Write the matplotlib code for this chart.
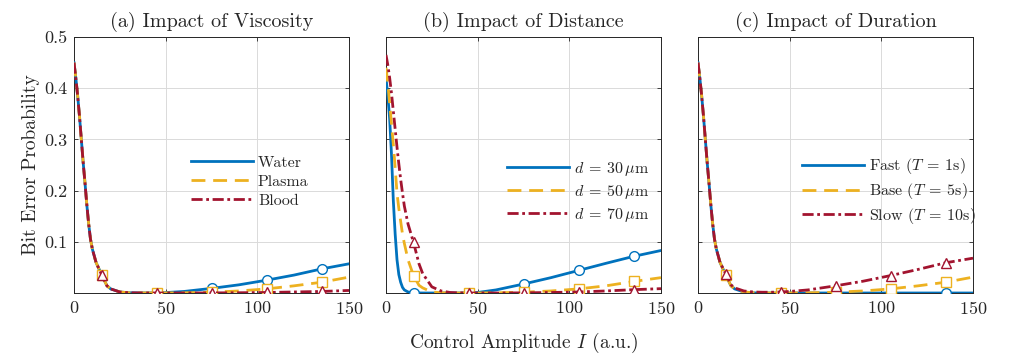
import numpy as np
import matplotlib
matplotlib.use('Agg')
import matplotlib.pyplot as plt
from matplotlib import rc

rc('font', family='serif', serif=['cmr10'])
rc('mathtext', fontset='cm')
rc('axes', unicode_minus=False)
plt.rcParams['axes.formatter.use_mathtext'] = True

# =============================================
# Data
# =============================================

amp = [0, 1, 2, 3, 4, 5, 6, 7, 8, 9, 10, 12, 15, 18, 20, 25, 30, 35, 40, 45,
       50, 60, 75, 90, 105, 120, 135, 150]
marker_amp = [15, 45, 75, 105, 135]

# (a) viscosity
water = [0.450, 0.420, 0.385, 0.345, 0.300, 0.255, 0.215, 0.172, 0.135, 0.105, 0.086, 0.060,
         0.036, 0.014, 0.008, 0.002, 0.0005, 0.0002, 0.0001, 0.0003,
         0.0008, 0.003, 0.009, 0.016, 0.025, 0.035, 0.047, 0.057]
plasma = [0.450, 0.420, 0.385, 0.345, 0.300, 0.255, 0.215, 0.172, 0.135, 0.105, 0.086, 0.060,
          0.036, 0.014, 0.008, 0.002, 0.0005, 0.0002, 0.0001, 0.0,
          0.0001, 0.0004, 0.0015, 0.004, 0.008, 0.014, 0.021, 0.031]
blood = [0.450, 0.420, 0.385, 0.345, 0.300, 0.255, 0.215, 0.172, 0.135, 0.105, 0.086, 0.060,
         0.036, 0.014, 0.008, 0.002, 0.0005, 0.0002, 0.0001, 0.0,
         0.0, 0.0, 0.0002, 0.0005, 0.001, 0.002, 0.003, 0.005]

# (b) distance
d30 = [0.420, 0.385, 0.340, 0.270, 0.180, 0.115, 0.065, 0.036, 0.021, 0.011, 0.006, 0.002,
       0.0003, 0.0001, 0.0, 0.0, 0.0, 0.0, 0.0, 0.0005,
       0.001, 0.006, 0.0175, 0.030, 0.044, 0.058, 0.0715, 0.083]
d50 = [0.440, 0.410, 0.370, 0.330, 0.290, 0.245, 0.195, 0.165, 0.140, 0.115, 0.097, 0.065,
       0.034, 0.015, 0.010, 0.002, 0.0005, 0.0001, 0.0, 0.0,
       0.0, 0.0004, 0.0015, 0.004, 0.008, 0.014, 0.0225, 0.030]
d70 = [0.465, 0.445, 0.420, 0.390, 0.355, 0.320, 0.285, 0.252, 0.222, 0.195, 0.170, 0.135,
       0.099, 0.057, 0.038, 0.012, 0.004, 0.001, 0.0003, 0.0,
       0.0, 0.0, 0.0003, 0.001, 0.002, 0.004, 0.0065, 0.0085]

# (c) duration
fast = [0.450, 0.420, 0.385, 0.345, 0.300, 0.255, 0.215, 0.172, 0.135, 0.105, 0.086, 0.060,
        0.036, 0.014, 0.008, 0.002, 0.0003, 0.0, 0.0, 0.0,
        0.0, 0.0, 0.0, 0.0, 0.0, 0.0, 0.0, 0.0]
base = [0.450, 0.420, 0.385, 0.345, 0.300, 0.255, 0.215, 0.172, 0.135, 0.105, 0.086, 0.060,
        0.036, 0.014, 0.008, 0.002, 0.0005, 0.0002, 0.0001, 0.0,
        0.0001, 0.0004, 0.0015, 0.004, 0.008, 0.014, 0.021, 0.031]
slow = [0.450, 0.420, 0.385, 0.345, 0.300, 0.255, 0.215, 0.172, 0.135, 0.105, 0.086, 0.060,
        0.038, 0.016, 0.010, 0.004, 0.002, 0.0015, 0.0015, 0.002,
        0.003, 0.006, 0.014, 0.023, 0.034, 0.046, 0.059, 0.068]

panels = [
    ('(a) Impact of Viscosity', [water, plasma, blood], ['Water', 'Plasma', 'Blood']),
    ('(b) Impact of Distance', [d30, d50, d70],
     [r'$d\:=\:30\,\mu\mathrm{m}$', r'$d\:=\:50\,\mu\mathrm{m}$', r'$d\:=\:70\,\mu\mathrm{m}$']),
    ('(c) Impact of Duration', [fast, base, slow],
     [r'Fast ($T\:=\:1$s)', r'Base ($T\:=\:5$s)', r'Slow ($T\:=\:10$s)']),
]
legend_pos = [(0.425, 0.434), (0.440, 0.395), (0.378, 0.398)]

# =============================================
# Styles
# =============================================

colors = ['#0072BD', '#EDB120', '#A2142F']
styles = ['-', (0, (5, 2.8)), (0, (4, 1.3, 1, 1.3))]
markers = ['o', 's', '^']
mk_idx = [amp.index(m) for m in marker_amp]
ink = '#262626'

fig = plt.figure(figsize=(10.31, 3.6), dpi=100)
lefts = [74, 386, 698]
W, H = 1031., 360.

for k, (title, series, labels) in enumerate(panels):
    ax = fig.add_axes([lefts[k] / W, 1 - 293 / H, 275 / W, 256 / H])
    for i in range(3):
        ax.plot(amp, series[i], color=colors[i], ls=styles[i], lw=2.0,
                label=labels[i], zorder=3 + i)
        yy = np.array(series[i])[mk_idx]
        ax.plot(marker_amp, yy, ls='none', marker=markers[i], ms=7, mfc='white',
                mec=colors[i], mew=1.0, zorder=3 + i)
    ax.set_xlim(0, 150)
    ax.set_ylim(0, 0.5)
    ax.set_xticks([0, 50, 100, 150])
    ax.set_yticks([0.1, 0.2, 0.3, 0.4, 0.5])
    ax.set_yticklabels(['0.1', '0.2', '0.3', '0.4', '0.5'])
    if k > 0:
        ax.set_yticklabels([])
    ax.grid(True, color='#dadada', lw=0.7)
    ax.set_axisbelow(True)
    ax.tick_params(direction='in', length=3, width=0.6, top=True, right=True,
                   labelsize=13, colors=ink, pad=5)
    for s in ax.spines.values():
        s.set_color(ink)
        s.set_linewidth(0.7)
    ax.set_title(title, fontsize=14.5, color=ink, pad=7)
    leg = ax.legend(loc='center left', bbox_to_anchor=legend_pos[k], frameon=False,
                    fontsize=11.5, handlelength=3.9, handletextpad=0.3,
                    labelspacing=0.3, borderpad=0, borderaxespad=0)
    for t in leg.get_texts():
        t.set_color(ink)
    if k == 0:
        ax.set_ylabel('Bit Error Probability', fontsize=14, color=ink, labelpad=3)
    if k == 1:
        ax.set_xlabel(r'Control Amplitude $I$ (a.u.)', fontsize=14, color=ink, labelpad=10)

fig.savefig('out.png', dpi=100)
